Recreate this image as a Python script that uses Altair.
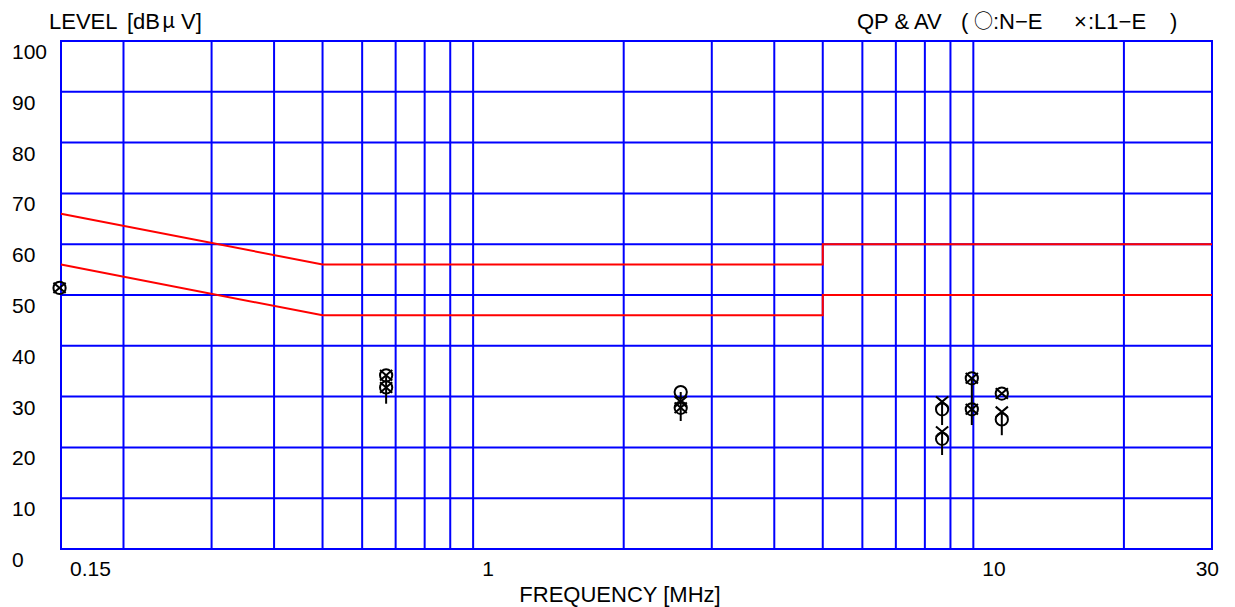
import altair as alt
import pandas as pd

# Conducted emission limits (dBuV): quasi-peak and average
qp_freq = [0.15, 0.5, 5.0, 5.0, 30.0]
qp_level = [66, 56, 56, 60, 60]
av_freq = [0.15, 0.5, 5.0, 5.0, 30.0]
av_level = [56, 46, 46, 50, 50]

# Measured readings, N-E (circle) and L1-E (cross)
ne_freq = [0.149, 0.67, 0.67, 2.60, 2.60, 8.66, 8.66, 9.93, 9.93, 11.40, 11.40]
ne_level = [51.4, 34.2, 31.8, 30.9, 27.8, 27.5, 21.7, 33.6, 27.5, 30.6, 25.5]
l1_freq = [0.149, 0.67, 0.67, 2.60, 2.60, 8.66, 8.66, 9.93, 9.93, 11.40, 11.40]
l1_level = [51.4, 34.2, 31.8, 29.0, 27.8, 29.0, 23.1, 33.6, 27.5, 30.6, 27.0]

# Vertical stems under the readings
stem_freq = [0.67, 2.60, 8.66, 8.66, 9.93, 11.40]
stem_top = [34.2, 30.9, 29.0, 23.1, 33.6, 27.0]
stem_bottom = [28.6, 25.2, 24.4, 18.5, 24.4, 22.4]

# Grid and tick labels
x_grid = [0.15, 0.2, 0.3, 0.4, 0.5, 0.6, 0.7, 0.8, 0.9,
          1, 2, 3, 4, 5, 6, 7, 8, 9, 10, 20, 30]
y_grid = [0, 10, 20, 30, 40, 50, 60, 70, 80, 90, 100]
x_tick_vals = [0.15, 1, 10]
x_tick_text = ["0.15", "1", "10"]
x_end_val = [30]
x_end_text = ["30"]
y_tick_text = [str(v) for v in y_grid]

BLUE = "#0000ff"
RED = "#ff0000"
FONT = "Liberation Sans"
CJK = "Noto Sans CJK JP"

xs = alt.Scale(type="log", domain=[0.15, 30], nice=False)
ys = alt.Scale(domain=[0, 100], nice=False, zero=False)

x_enc = lambda field: alt.X(field, scale=xs, axis=None)
y_enc = lambda field: alt.Y(field, scale=ys, axis=None)

# Blue grid
x_rules = alt.Chart(pd.DataFrame({"f": x_grid})).mark_rule(
    color=BLUE, strokeWidth=2).encode(x=x_enc("f:Q"))
y_rules = alt.Chart(pd.DataFrame({"v": y_grid})).mark_rule(
    color=BLUE, strokeWidth=2).encode(y=y_enc("v:Q"))

limits = pd.DataFrame({
    "f": qp_freq + av_freq,
    "level": qp_level + av_level,
    "limit": ["QP"] * len(qp_freq) + ["AV"] * len(av_freq),
    "idx": list(range(len(qp_freq))) + list(range(len(av_freq))),
})

limit_lines = alt.Chart(limits).mark_line(color=RED, strokeWidth=2).encode(
    x=x_enc("f:Q"),
    y=y_enc("level:Q"),
    detail="limit:N",
    order="idx:Q",
)

stems = alt.Chart(pd.DataFrame({
    "f": stem_freq, "top": stem_top, "bottom": stem_bottom,
})).mark_rule(color="black", strokeWidth=2).encode(
    x=x_enc("f:Q"),
    y=y_enc("top:Q"),
    y2="bottom:Q",
)

circles = alt.Chart(pd.DataFrame({"f": ne_freq, "level": ne_level})).mark_point(
    shape="circle", size=150, filled=False, stroke="black", strokeWidth=2,
    opacity=1,
).encode(x=x_enc("f:Q"), y=y_enc("level:Q"))

crosses = alt.Chart(pd.DataFrame({"f": l1_freq, "level": l1_level})).mark_point(
    shape="M-1,-0.85L1,0.85M-1,0.85L1,-0.85", size=150, filled=False,
    stroke="black", strokeWidth=2, opacity=1,
).encode(x=x_enc("f:Q"), y=y_enc("level:Q"))

y_labels = alt.Chart(pd.DataFrame({"v": y_grid, "t": y_tick_text})).mark_text(
    align="left", baseline="middle", dy=12, font=FONT, fontSize=21, color="black",
).encode(
    x=alt.value(-49),
    y=y_enc("v:Q"),
    text="t:N",
)

x_labels = alt.Chart(pd.DataFrame({"v": x_tick_vals, "t": x_tick_text})).mark_text(
    align="left", baseline="middle", dx=9, font=FONT, fontSize=21, color="black",
).encode(
    x=x_enc("v:Q"),
    y=alt.value(529),
    text="t:N",
)

x_end_label = alt.Chart(pd.DataFrame({"v": x_end_val, "t": x_end_text})).mark_text(
    align="right", baseline="middle", dx=7, font=FONT, fontSize=21, color="black",
).encode(
    x=x_enc("v:Q"),
    y=alt.value(529),
    text="t:N",
)


def label(text, x, y, align="left", size=22, font=FONT):
    return alt.Chart(pd.DataFrame({"t": [text]})).mark_text(
        align=align, baseline="middle", font=font, fontSize=size, color="black",
    ).encode(x=alt.value(x), y=alt.value(y), text="t:N")


titles = [
    label("LEVEL", -12, -19),
    label("[dB", 66, -19),
    label("μ", 101, -19, font=CJK, size=21),
    label("V]", 120, -19),
    label("QP & AV", 796, -19),
    label("(", 900, -19),
    label("○", 913, -19, font=CJK, size=19),
    label(":N−E", 932, -19),
    label("×", 1013, -19),
    label(":L1−E", 1027, -19),
    label(")", 1109, -19),
    label("FREQUENCY [MHz]", 559, 554, align="center"),
]

chart = alt.layer(
    x_rules, y_rules, limit_lines, stems, circles, crosses,
    y_labels, x_labels, x_end_label, *titles
).properties(
    width=1151,
    height=508,
    autosize=alt.AutoSizeParams(type="none"),
    padding={"left": 61, "top": 41, "right": 23, "bottom": 58},
    background="white",
).configure_view(stroke=BLUE, strokeWidth=2)

chart.save("out.html", embed_options={"renderer": "svg", "actions": False})
